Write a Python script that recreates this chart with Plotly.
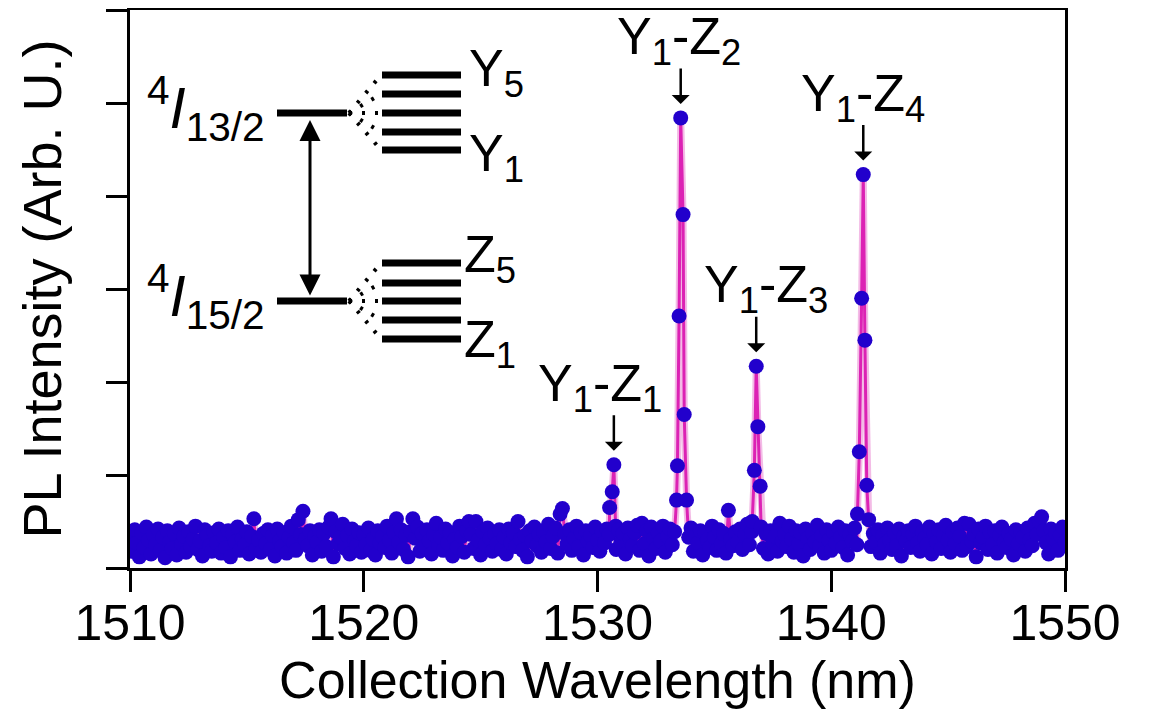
import numpy as np
import plotly.graph_objects as go

# ---------------- data ----------------
wavelength_start = 1510.0
wavelength_step = 0.1
baseline_intensity = [
    0.32, 0.18, 0.41, 0.27, 0.12, 0.38, 0.22, 0.44, 0.30, 0.15, 0.36, 0.25, 0.42, 0.19, 0.33, 0.11, 0.40, 0.28, 0.21, 0.37,
    0.14, 0.43, 0.26, 0.34, 0.17, 0.39, 0.23, 0.31, 0.45, 0.20, 0.29, 0.13, 0.41, 0.35, 0.24, 0.18, 0.38, 0.27, 0.42, 0.16,
    0.33, 0.22, 0.40, 0.12, 0.36, 0.28, 0.44, 0.19, 0.31, 0.25, 0.39, 0.15, 0.34, 0.53, 0.21, 0.30, 0.17, 0.37, 0.26, 0.41,
    0.20, 0.35, 0.13, 0.42, 0.29, 0.23, 0.38, 0.16, 0.33, 0.45, 0.27, 0.19, 0.52, 0.36, 0.61, 0.31, 0.24, 0.40, 0.14, 0.34,
    0.28, 0.41, 0.18, 0.37, 0.23, 0.44, 0.53, 0.12, 0.39, 0.26, 0.33, 0.47, 0.21, 0.35, 0.15, 0.42, 0.29, 0.24, 0.38, 0.17,
    0.36, 0.25, 0.43, 0.19, 0.31, 0.14, 0.40, 0.27, 0.34, 0.22, 0.45, 0.30, 0.16, 0.38, 0.53, 0.28, 0.41, 0.20, 0.35, 0.12,
    0.39, 0.53, 0.32, 0.44, 0.18, 0.37, 0.23, 0.41, 0.29, 0.15, 0.36, 0.48, 0.24, 0.33, 0.19, 0.42, 0.27, 0.38, 0.13, 0.31,
    0.22, 0.45, 0.34, 0.17, 0.40, 0.50, 0.36, 0.21, 0.50, 0.30, 0.14, 0.39, 0.25, 0.43, 0.32, 0.18, 0.37, 0.26, 0.41, 0.20,
    0.33, 0.15, 0.42, 0.27, 0.38, 0.23, 0.50, 0.31, 0.19, 0.35, 0.12, 0.40, 0.29, 0.44, 0.24, 0.36, 0.17, 0.39, 0.28, 0.47,
    0.21, 0.34, 0.43, 0.16, 0.58, 0.64, 0.37, 0.26, 0.41, 0.19, 0.32, 0.45, 0.23, 0.38, 0.14, 0.40, 0.29, 0.35, 0.22, 0.44,
    0.30, 0.18, 0.39, 0.27, 0.42, 0.36, 0.25, 0.33, 0.20, 0.41, 0.28, 0.37, 0.15, 0.43, 0.31, 0.24, 0.38, 0.46, 0.19, 0.48,
    0.26, 0.40, 0.13, 0.44, 0.32, 0.21, 0.37, 0.29, 0.45, 0.17, 0.34, 0.42, 0.25, 0.39, 0.38, 0.42, 0.40, 0.41, 0.36, 0.33,
    0.43, 0.18, 0.35, 0.27, 0.40, 0.14, 0.38, 0.30, 0.22, 0.45, 0.33, 0.19, 0.41, 0.26, 0.37, 0.16, 0.62, 0.31, 0.24, 0.39,
    0.28, 0.42, 0.20, 0.36, 0.47, 0.25, 0.39, 0.33, 0.41, 0.30, 0.44, 0.21, 0.37, 0.15, 0.40, 0.27, 0.34, 0.18, 0.48, 0.29,
    0.36, 0.23, 0.45, 0.31, 0.17, 0.40, 0.26, 0.38, 0.13, 0.42, 0.32, 0.20, 0.37, 0.28, 0.46, 0.24, 0.35, 0.16, 0.41, 0.30,
    0.19, 0.38, 0.27, 0.44, 0.33, 0.22, 0.40, 0.14, 0.36, 0.29, 0.43, 0.25, 0.34, 0.18, 0.39, 0.31, 0.47, 0.23, 0.37, 0.28,
    0.41, 0.16, 0.35, 0.26, 0.43, 0.30, 0.20, 0.38, 0.24, 0.42, 0.13, 0.34, 0.29, 0.40, 0.22, 0.36, 0.45, 0.27, 0.18, 0.39,
    0.32, 0.25, 0.44, 0.15, 0.37, 0.28, 0.41, 0.21, 0.35, 0.46, 0.30, 0.17, 0.39, 0.26, 0.43, 0.34, 0.19, 0.48, 0.23, 0.47,
    0.29, 0.36, 0.12, 0.42, 0.27, 0.33, 0.45, 0.20, 0.38, 0.25, 0.40, 0.16, 0.35, 0.44, 0.28, 0.22, 0.37, 0.31, 0.14, 0.41,
    0.26, 0.39, 0.33, 0.18, 0.43, 0.30, 0.24, 0.48, 0.36, 0.50, 0.55, 0.40, 0.27, 0.15, 0.42, 0.32, 0.38, 0.19, 0.35, 0.44,
    0.28,
]

peak_names = ["Y<sub>1</sub>-Z<sub>1</sub>", "Y<sub>1</sub>-Z<sub>2</sub>",
              "Y<sub>1</sub>-Z<sub>3</sub>", "Y<sub>1</sub>-Z<sub>4</sub>"]
peak_z1_x = [1530.52, 1530.63, 1530.70, 1530.78]
peak_z1_y = [0.65, 0.82, 1.11, 0.45]
peak_z2_x = [1533.38, 1533.42, 1533.49, 1533.56, 1533.66, 1533.71, 1533.81]
peak_z2_y = [0.73, 1.10, 2.71, 4.84, 3.80, 1.65, 0.73]
peak_z3_x = [1536.62, 1536.71, 1536.79, 1536.86, 1536.96]
peak_z3_y = [0.50, 1.05, 2.17, 1.52, 0.88]
peak_z4_x = [1541.12, 1541.20, 1541.30, 1541.37, 1541.44, 1541.52, 1541.60]
peak_z4_y = [0.58, 1.25, 2.90, 4.23, 2.45, 0.89, 0.52]

x_ticks = [1510, 1520, 1530, 1540, 1550]
y_ticks = [0, 1, 2, 3, 4, 5, 6]

# ---------------- assemble spectrum ----------------
peaks = [(peak_z1_x, peak_z1_y), (peak_z2_x, peak_z2_y),
         (peak_z3_x, peak_z3_y), (peak_z4_x, peak_z4_y)]
bx = np.round(wavelength_start + wavelength_step * np.arange(len(baseline_intensity)), 2)
by = np.array(baseline_intensity)
keep = np.ones(len(bx), bool)
for px_, py_ in peaks:
    keep &= ~((bx >= min(px_) - 0.01) & (bx <= max(px_) + 0.01))
all_x = list(bx[keep])
all_y = list(by[keep])
for px_, py_ in peaks:
    all_x += px_
    all_y += py_
order = np.argsort(all_x)
all_x = np.array(all_x)[order]
all_y = np.array(all_y)[order]

# ---------------- layout (page has an 8px body margin) ----------------
W, H = 1153, 724
OFF = 8
SX0, SX1, SY0, SY1 = 130, 1065, 568, 10   # plot area in screenshot pixels
L = SX0 - OFF
T = SY1 - OFF
R = W - (SX1 - OFF)
B = H - (SY0 - OFF)
XR = (1510, 1550)
YR = (0, 6)
DX = (XR[1] - XR[0]) / (SX1 - SX0)   # data units per pixel
DY = (YR[1] - YR[0]) / (SY0 - SY1)


def X(px):
    return XR[0] + (px - SX0) * DX


def Y(py):
    return YR[0] + (SY0 - py) * DY


FONT = "Liberation Sans, Arial, sans-serif"
BLUE = "#2200cc"

fig = go.Figure()
fig.add_trace(go.Scatter(x=all_x, y=all_y, mode="lines",
                         line=dict(color="rgba(232,120,205,0.5)", width=7),
                         hoverinfo="skip", showlegend=False))
fig.add_trace(go.Scatter(x=all_x, y=all_y, mode="lines",
                         line=dict(color="#dc22b4", width=3),
                         hoverinfo="skip", showlegend=False))
fig.add_trace(go.Scatter(x=all_x, y=all_y, mode="markers",
                         marker=dict(color=BLUE, size=15, line=dict(width=0)),
                         showlegend=False))

# peak labels + arrows
label_dx = [-14, -2, 10, 0]
for (px_, py_), name, dx in zip(peaks, peak_names, label_dx):
    i = int(np.argmax(py_))
    xm, ym = px_[i], py_[i]
    tip = ym + 14 * DY
    tail = tip + 37 * DY
    fig.add_annotation(x=xm, y=tip, ax=xm, ay=tail, xref="x", yref="y",
                       axref="x", ayref="y", text="", showarrow=True,
                       arrowhead=1, arrowwidth=2.5, arrowsize=1.2, arrowcolor="black")
    fig.add_annotation(x=xm + dx * DX, y=tail - 7 * DY, xref="x", yref="y",
                       text=name, showarrow=False, xanchor="center", yanchor="bottom",
                       font=dict(family=FONT, size=52, color="black"), borderpad=0)

# energy level diagram
shapes = []
for ly in (113, 301):
    shapes.append(dict(type="line", xref="x", yref="y", x0=X(277), x1=X(347), y0=Y(ly), y1=Y(ly),
                       line=dict(color="black", width=7)))
for lv, subs in ((113, [75, 94, 113, 132, 150]), (301, [263, 283, 301, 320, 339])):
    for sy in subs:
        shapes.append(dict(type="line", xref="x", yref="y", x0=X(382), x1=X(461), y0=Y(sy), y1=Y(sy),
                           line=dict(color="black", width=7)))
        shapes.append(dict(type="line", xref="x", yref="y", x0=X(349), x1=X(381), y0=Y(lv), y1=Y(sy),
                           line=dict(color="black", width=4, dash="3px,10px")))
fig.update_layout(shapes=shapes)

fig.add_annotation(x=X(310), y=Y(120), ax=X(310), ay=Y(297), xref="x", yref="y",
                   axref="x", ayref="y", text="", showarrow=True, arrowside="end+start",
                   arrowhead=2, startarrowhead=2, arrowwidth=3, arrowsize=1.4,
                   startarrowsize=1.4, arrowcolor="black")

level_labels = [
    ("<sup>4</sup><i>I</i><sub>13/2</sub>", 266, 108, "right", 58),
    ("<sup>4</sup><i>I</i><sub>15/2</sub>", 266, 296, "right", 58),
    ("Y<sub>5</sub>", 468, 72, "left", 52),
    ("Y<sub>1</sub>", 468, 157, "left", 52),
    ("Z<sub>5</sub>", 463, 258, "left", 52),
    ("Z<sub>1</sub>", 463, 343, "left", 52),
]
for txt, lx, ly, anc, fs in level_labels:
    fig.add_annotation(x=X(lx), y=Y(ly), xref="x", yref="y", text=txt, showarrow=False,
                       xanchor=anc, yanchor="middle", borderpad=0,
                       font=dict(family=FONT, size=fs, color="black"))

axis_common = dict(showline=True, linecolor="black", linewidth=3, mirror=True,
                   ticks="outside", ticklen=21, tickwidth=3, tickcolor="black",
                   showgrid=False, zeroline=False)
fig.update_xaxes(range=list(XR), tickvals=x_ticks, ticktext=[str(v) for v in x_ticks],
                 tickfont=dict(family=FONT, size=50, color="black"),
                 ticklabelstandoff=-12,
                 title=dict(text="Collection Wavelength (nm)", standoff=2,
                            font=dict(family=FONT, size=52, color="black")),
                 **axis_common)
fig.update_yaxes(range=list(YR), tickvals=y_ticks, showticklabels=False,
                 title=dict(text="PL Intensity (Arb. U.)", standoff=28,
                            font=dict(family=FONT, size=54, color="black")),
                 **axis_common)
fig.update_layout(width=W, height=H, margin=dict(l=L, r=R, t=T, b=B, autoexpand=False),
                  plot_bgcolor="white", paper_bgcolor="white")

fig.write_html("out.html")
